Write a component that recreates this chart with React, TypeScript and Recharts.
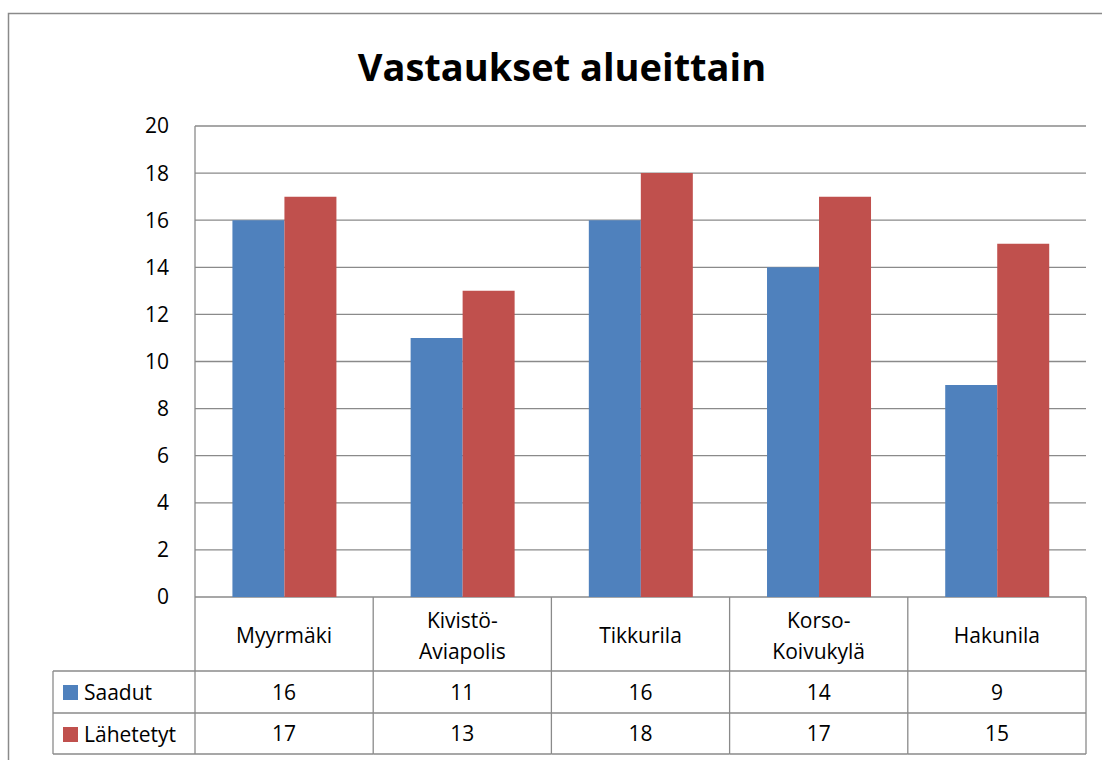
import { BarChart, Bar, XAxis, YAxis, CartesianGrid, Customized } from "recharts";

const CATEGORIES = [
  ["Myyrmäki"],
  ["Kivistö-", "Aviapolis"],
  ["Tikkurila"],
  ["Korso-", "Koivukylä"],
  ["Hakunila"],
];
const SAADUT = [16, 11, 16, 14, 9];
const LAHETETYT = [17, 13, 18, 17, 15];
const Y_TICKS = [0, 2, 4, 6, 8, 10, 12, 14, 16, 18, 20];

const BLUE = "#4F81BD";
const RED = "#C0504D";
const LINE = "#8a8a8a";
const FONT = "'Open Sans', 'Noto Sans', sans-serif";

const W = 1102;
const H = 760;
const PLOT_LEFT = 195;
const PLOT_RIGHT = 16;
const PLOT_TOP = 126;
const AXIS_H = 163;
const BAND = (W - PLOT_LEFT - PLOT_RIGHT) / CATEGORIES.length;

const data = CATEGORIES.map((c, i) => ({
  name: c.join(" "),
  lines: c,
  saadut: SAADUT[i],
  lahetetyt: LAHETETYT[i],
}));

// header row, then two value rows
const ROW1 = 74;
const ROW2 = 116;
const ROW3 = 157;

function TableTick(props: any) {
  const { x, y, index } = props;
  const d = data[index];
  const l = x - BAND / 2;
  const r = x + BAND / 2;
  return (
    <g>
      <line x1={r} y1={y} x2={r} y2={y + ROW3} stroke={LINE} strokeWidth={1.3} />
      {index === 0 && (
        <line x1={l} y1={y} x2={l} y2={y + ROW3} stroke={LINE} strokeWidth={1.3} />
      )}
      <line x1={l} y1={y + ROW1} x2={r} y2={y + ROW1} stroke={LINE} strokeWidth={1.3} />
      <line x1={l} y1={y + ROW2} x2={r} y2={y + ROW2} stroke={LINE} strokeWidth={1.3} />
      <line x1={l} y1={y + ROW3} x2={r} y2={y + ROW3} stroke={LINE} strokeWidth={1.3} />
      {d.lines.length === 1 ? (
        <text x={x} y={y + 38} textAnchor="middle" dominantBaseline="central" fontSize={21} fontFamily={FONT} fill="#000">
          {d.lines[0]}
        </text>
      ) : (
        d.lines.map((t, k) => (
          <text key={k} x={x} y={y + 23 + k * 31} textAnchor="middle" dominantBaseline="central" fontSize={21} fontFamily={FONT} fill="#000">
            {t}
          </text>
        ))
      )}
      <text x={x} y={y + 95} textAnchor="middle" dominantBaseline="central" fontSize={21} fontFamily={FONT} fill="#000">
        {d.saadut}
      </text>
      <text x={x} y={y + 136} textAnchor="middle" dominantBaseline="central" fontSize={21} fontFamily={FONT} fill="#000">
        {d.lahetetyt}
      </text>
    </g>
  );
}

function Frame() {
  const y0 = H - AXIS_H;
  const legend = [
    { label: "Saadut", color: BLUE, top: y0 + ROW1 },
    { label: "Lähetetyt", color: RED, top: y0 + ROW2 },
  ];
  return (
    <g>
      <rect x={8.5} y={13.5} width={1120} height={800} fill="none" stroke={LINE} strokeWidth={1.5} />
      <text x={562} y={66} textAnchor="middle" dominantBaseline="central" fontSize={38} fontWeight="bold" fontFamily={FONT} fill="#000">
        Vastaukset alueittain
      </text>
      <line x1={53} y1={y0 + ROW1} x2={PLOT_LEFT} y2={y0 + ROW1} stroke={LINE} strokeWidth={1.3} />
      <line x1={53} y1={y0 + ROW2} x2={PLOT_LEFT} y2={y0 + ROW2} stroke={LINE} strokeWidth={1.3} />
      <line x1={53} y1={y0 + ROW3} x2={PLOT_LEFT} y2={y0 + ROW3} stroke={LINE} strokeWidth={1.3} />
      <line x1={53} y1={y0 + ROW1} x2={53} y2={y0 + ROW3} stroke={LINE} strokeWidth={1.3} />
      {legend.map((it) => (
        <g key={it.label}>
          <rect x={63} y={it.top + 14} width={15} height={15} fill={it.color} />
          <text x={84} y={it.top + 21} dominantBaseline="central" fontSize={21} fontFamily={FONT} fill="#000">
            {it.label}
          </text>
        </g>
      ))}
    </g>
  );
}

export default function App() {
  return (
    <div style={{ position: "absolute", left: 0, top: 0, background: "#fff" }}>
      <BarChart
        width={W}
        height={H}
        data={data}
        margin={{ top: PLOT_TOP, right: PLOT_RIGHT, left: 0, bottom: 0 }}
        barCategoryGap="21%"
        barGap={0}
      >
        <CartesianGrid vertical={false} stroke={LINE} strokeWidth={1.3} />
        <XAxis
          dataKey="name"
          height={AXIS_H}
          axisLine={false}
          tickLine={false}
          tickSize={0}
          tickMargin={0}
          interval={0}
          tick={<TableTick />}
        />
        <YAxis
          width={PLOT_LEFT}
          domain={[0, 20]}
          ticks={Y_TICKS}
          interval={0}
          axisLine={{ stroke: LINE, strokeWidth: 1.3 }}
          tickLine={false}
          tickMargin={20}
          tick={{ fontSize: 21, fontFamily: FONT, fill: "#000" }}
        />
        <Bar dataKey="saadut" fill={BLUE} isAnimationActive={false} />
        <Bar dataKey="lahetetyt" fill={RED} isAnimationActive={false} />
        <Customized component={<Frame />} />
      </BarChart>
    </div>
  );
}
